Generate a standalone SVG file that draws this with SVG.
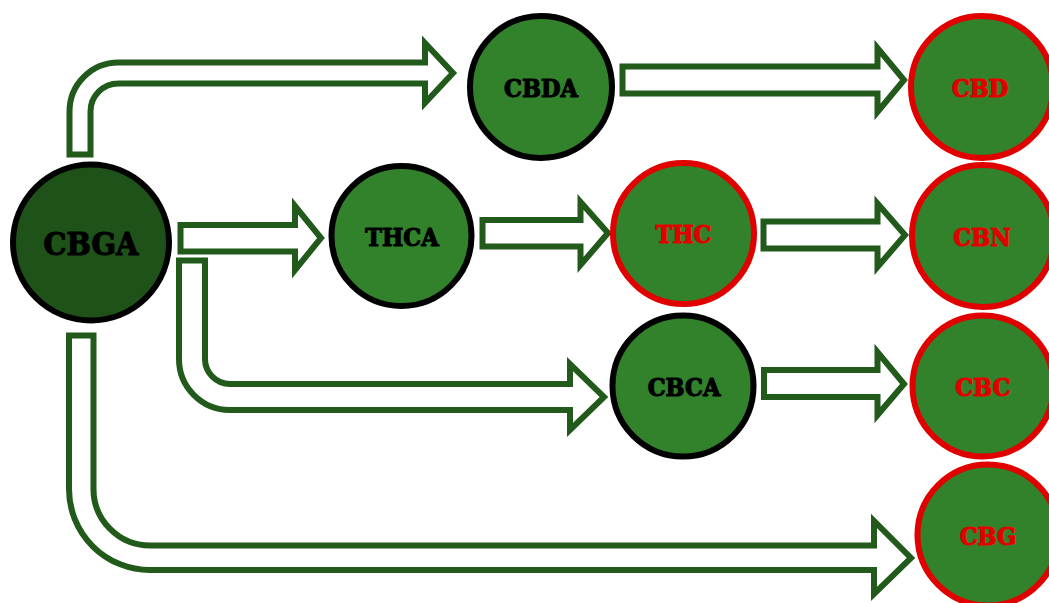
<svg xmlns="http://www.w3.org/2000/svg" width="1049" height="603" viewBox="0 0 1049 603">
<style>
.arrow{fill:#ffffff;stroke:#215a1b;stroke-width:6;stroke-linejoin:miter}
.node{fill:#31822b;stroke-width:6}
.src{stroke:#000000}
.prod{stroke:#e10000}
.lbl{font-family:"DejaVu Serif Condensed","DejaVu Serif",serif;font-stretch:condensed;font-weight:bold;font-size:25px;text-anchor:middle;stroke-width:1.1;stroke-linejoin:round}
.blk{fill:#000000;stroke:#000000}
.red{fill:#e10000;stroke:#e10000}
</style>
<rect width="1049" height="603" fill="#ffffff"/>
<g id="connectors">
<path class="arrow" d="M69.5 154.5 L69.5 111.5 A49 49 0 0 1 118.5 62.5 L425 62.5 L425 43 L453 73 L425 103 L425 83.5 L118.5 83.5 A28 28 0 0 0 90.5 111.5 L90.5 154.5 Z"/>
<path class="arrow" d="M180.5 225 L295 225 L295 206 L321 238 L295 270 L295 251.5 L180.5 251.5 Z"/>
<path class="arrow" d="M179 260.5 L179 359 A51 51 0 0 0 230 410 L570 410 L570 430 L604 397 L570 364 L570 384 L230 384 A25 25 0 0 1 205 359 L205 260.5 Z"/>
<path class="arrow" d="M69 335.5 L69 489 A81 81 0 0 0 150 570 L874 570 L874 594 L911 558 L874 521 L874 545.5 L150 545.5 A56.5 56.5 0 0 1 93.5 489 L93.5 335.5 Z"/>
<path class="arrow" d="M622.5 66.5 L877.5 66.5 L877.5 48 L904 80 L877.5 112 L877.5 93.5 L622.5 93.5 Z"/>
<path class="arrow" d="M482.5 220 L580.5 220 L580.5 202 L608 233 L580.5 265 L580.5 246.5 L482.5 246.5 Z"/>
<path class="arrow" d="M763.5 221.5 L877.5 221.5 L877.5 203.5 L905 235 L877.5 267 L877.5 248.5 L763.5 248.5 Z"/>
<path class="arrow" d="M764 370 L877.5 370 L877.5 352 L904 384 L877.5 415 L877.5 397 L764 397 Z"/>
</g>
<g id="CBGA">
<circle cx="91" cy="242.5" r="78" fill="#1f5219" stroke="#000000" stroke-width="6"/>
<text class="lbl blk" x="91" y="255" style="font-size:32px">CBGA</text>
</g>
<g id="CBDA">
<circle class="node src" cx="541" cy="87" r="71"/>
<text class="lbl blk" x="541" y="96.5">CBDA</text>
</g>
<g id="THCA">
<circle class="node src" cx="401.5" cy="236" r="70"/>
<text class="lbl blk" x="402" y="245.5">THCA</text>
</g>
<g id="CBCA">
<circle class="node src" cx="683" cy="386" r="70.5"/>
<text class="lbl blk" x="684" y="395.5">CBCA</text>
</g>
<g id="THC">
<circle class="node prod" cx="683.5" cy="233.5" r="70.5"/>
<text class="lbl red" x="683.5" y="243">THC</text>
</g>
<g id="CBD">
<circle class="node prod" cx="982" cy="87" r="71"/>
<text class="lbl red" x="980" y="96.5">CBD</text>
</g>
<g id="CBN">
<circle class="node prod" cx="983" cy="236" r="71"/>
<text class="lbl red" x="982" y="245.5">CBN</text>
</g>
<g id="CBC">
<circle class="node prod" cx="983" cy="386" r="70.5"/>
<text class="lbl red" x="983" y="395.5">CBC</text>
</g>
<g id="CBG">
<circle class="node prod" cx="988" cy="535" r="70.5"/>
<text class="lbl red" x="988" y="544.5">CBG</text>
</g>
</svg>
